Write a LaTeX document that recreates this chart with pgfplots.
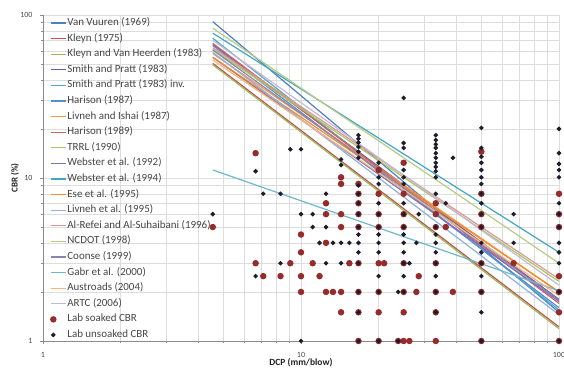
\documentclass[border=0pt]{standalone}
\usepackage{pgfplots}
\pgfplotsset{compat=1.18}
\usepackage{fontspec}
\setmainfont{Carlito}
\definecolor{gridc}{HTML}{DDDDDD}
\definecolor{axisc}{HTML}{8C8C8C}
\definecolor{labc}{HTML}{454545}
\definecolor{cA}{HTML}{4F81BD}
\definecolor{cB}{HTML}{C0504D}
\definecolor{cC}{HTML}{9BBB59}
\definecolor{cD}{HTML}{6A5A9E}
\definecolor{cE}{HTML}{4BACC6}
\definecolor{cF}{HTML}{5B8DCB}
\definecolor{cG}{HTML}{F79646}
\definecolor{cH}{HTML}{D9605C}
\definecolor{cI}{HTML}{A5C85F}
\definecolor{cJ}{HTML}{8470B8}
\definecolor{cK}{HTML}{41A6C2}
\definecolor{cL}{HTML}{F08A30}
\definecolor{cM}{HTML}{8FB0DA}
\definecolor{cN}{HTML}{D99694}
\definecolor{cO}{HTML}{B5CC85}
\definecolor{cP}{HTML}{8A84B0}
\definecolor{cQ}{HTML}{6CB8CF}
\definecolor{cR}{HTML}{FAB27A}
\definecolor{cS}{HTML}{C4B8D8}
\definecolor{soaked}{HTML}{962B2B}
\definecolor{unsoaked}{HTML}{1C1C2C}
\pgfplotsset{
  dotleg/.style={legend image code/.code={\draw[##1] plot coordinates {(2.5bp,0bp)};}},
}
\begin{document}
\begin{tikzpicture}
\begin{axis}[
  at={(43bp,29bp)}, anchor=south west,
  width=516bp, height=326bp, scale only axis,
  xmode=log, ymode=log,
  xmin=1, xmax=100, ymin=1, ymax=100,
  xtick={1,10,100}, xticklabels={1,10,100},
  ytick={1,10,100}, yticklabels={1,10,100},
  grid=both,
  major grid style={draw=gridc, line width=0.5bp},
  minor grid style={draw=gridc, line width=0.5bp},
  axis lines*=left,
  axis line style={draw=axisc, line width=0.6bp},
  tick style={draw=axisc, line width=0.5bp},
  tick align=outside,
  major tick length=3bp, minor tick length=2bp,
  ticklabel style={font=\fontsize{8}{9}\selectfont, text=labc},
  xticklabel style={yshift=-5bp},
  yticklabel style={xshift=-4bp},
  xlabel={\textbf{DCP (mm/blow)}},
  ylabel={\textbf{CBR (\%)}},
  xlabel style={at={(axis description cs:0.5,0)}, anchor=center, yshift=-22bp, font=\fontsize{9.5}{10}\selectfont, text=labc!50!black},
  ylabel style={at={(axis description cs:-0.0543,0.5)}, anchor=center, font=\fontsize{9}{10}\selectfont, text=labc!50!black},
  legend style={at={(0,1)}, anchor=north west, xshift=7bp, draw=none, fill=none,
    inner sep=0pt, row sep=0pt, text=labc,
    nodes={font=\fontsize{11}{12}\selectfont, inner ysep=3.1bp, inner xsep=1bp, text height=7.2bp, text depth=2.2bp}},
  legend cell align=left,
  every axis plot/.append style={line width=1.2bp},
  legend image code/.code={\draw[#1] (0bp,0bp) -- (15bp,0bp);},
]
\addplot[cA] coordinates {(4.55,91) (100,1.5)};
\addlegendentry{Van Vuuren (1969)}
\addplot[cB] coordinates {(4.55,50.5) (100,1.22)};
\addlegendentry{Kleyn (1975)}
\addplot[cC] coordinates {(4.55,49.5) (100,1.19)};
\addlegendentry{Kleyn and Van Heerden (1983)}
\addplot[cD] coordinates {(4.55,66) (100,1.8)};
\addlegendentry{Smith and Pratt (1983)}
\addplot[cE] coordinates {(4.55,72) (100,1.55)};
\addlegendentry{Smith and Pratt (1983) inv.}
\addplot[cF] coordinates {(4.55,65) (100,1.6)};
\addlegendentry{Harison (1987)}
\addplot[cG] coordinates {(4.55,58) (100,2.0)};
\addlegendentry{Livneh and Ishai (1987)}
\addplot[cH] coordinates {(4.55,67) (100,1.7)};
\addlegendentry{Harison (1989)}
\addplot[cI] coordinates {(4.55,61.5) (100,2.32)};
\addlegendentry{TRRL (1990)}
\addplot[cJ] coordinates {(4.55,55) (100,1.75)};
\addlegendentry{Webster et al. (1992)}
\addplot[cK] coordinates {(4.55,77.4) (100,3.5)};
\addlegendentry{Webster et al. (1994)}
\addplot[cL] coordinates {(4.55,55) (100,2.0)};
\addlegendentry{Ese et al. (1995)}
\addplot[cM] coordinates {(4.55,59) (100,1.45)};
\addlegendentry{Livneh et al. (1995)}
\addplot[cN] coordinates {(4.55,63) (100,2.4)};
\addlegendentry{Al-Refei and Al-Suhaibani (1996)}
\addplot[cO] coordinates {(4.55,83) (100,3.0)};
\addlegendentry{NCDOT (1998)}
\addplot[cP] coordinates {(4.55,61) (100,1.78)};
\addlegendentry{Coonse (1999)}
\addplot[cQ] coordinates {(4.55,11.2) (100,2.03)};
\addlegendentry{Gabr et al. (2000)}
\addplot[cR] coordinates {(4.55,53) (100,1.9)};
\addlegendentry{Austroads (2004)}
\addplot[cS] coordinates {(4.55,70) (100,2.2)};
\addlegendentry{ARTC (2006)}
\addplot[only marks, mark=*, mark size=2.6bp, draw=soaked, fill=soaked, dotleg] coordinates {
(4.55,5) (6.67,14.2) (6.67,3) (7.14,2.5) (8.33,2.5) (9.09,3) (10,4.5) (10,3.5) (10,2.5) (10,2)
(11.1,3) (11.8,2.5) (12.5,6) (12.5,7) (12.5,4) (12.5,2) (13.3,2) (14.3,10.1) (14.3,9.2) (14.3,6)
(14.3,5) (14.3,2) (14.3,1.5) (15.4,3)
(16.7,9.2) (16.7,8) (16.7,7) (16.7,6) (16.7,5) (16.7,3) (16.7,2) (16.7,1.5) (16.7,1)
(20,11.2) (20,8) (20,6) (20,5) (20,3) (21,3) (20,2) (20,1.5) (20,1)
(23.8,1)
(25,12.4) (25,8) (25,6) (25,5) (25,3) (25,2) (25,1.5) (25,1)
(26.3,1) (28,2) (28.6,2.5)
(33.3,7) (33.3,6) (33.3,5) (33.3,3) (33.3,2) (33.3,1.5) (33.3,1)
(36.4,5) (38.8,2)
(50,14.5) (50,8) (50,6) (50,5) (50,3) (50,2) (50,1)
(66.7,3)
(100,8) (100,6) (100,5) (100,2.5) (100,2) (100,1.5) (100,1)
};
\addlegendentry{Lab soaked CBR}
\addplot[only marks, mark=*, mark size=1.6bp, draw=unsoaked, fill=unsoaked, dotleg] coordinates {
(4.55,6) (6.67,11) (6.67,2.5) (7.14,8) (8.33,8) (8.33,3) (9.09,15) (10,15) (10,6) (10,1)
(11.1,6) (11.1,5) (11.8,4) (12.5,8) (12.5,5) (12.5,3) (13.3,4) (14.3,13) (14.3,12) (14.3,4)
(14.3,3) (15.4,4)
(16.7,18.3) (16.7,17.4) (16.7,16.5) (16.7,15.5) (16.7,14.5) (16.7,13.3) (16.7,9) (16.7,8)
(16.7,7) (16.7,6) (16.7,5) (16.7,4.5) (16.7,4) (16.7,3.5) (16.7,3) (16.7,2) (16.7,1.5) (16.7,1)
(20,12.4) (20,10.1) (20,9.2) (20,7) (20,6) (20,5) (20,4.5) (20,4) (20,3.5) (20,2.5) (20,2) (20,1)
(23.8,2) (23.8,1)
(25,31) (25,16.4) (25,15.3) (25,11.2) (25,10.1) (25,9.2) (25,7) (25,6) (25,5) (25,4.5) (25,4)
(25,3.5) (25,3) (25,2.5) (25,2)
(26.3,3) (28,4) (28.6,6)
(33.3,18.3) (33.3,17.1) (33.3,16.1) (33.3,15.3) (33.3,14.2) (33.3,13.3) (33.3,12.4) (33.3,11.7)
(33.3,11) (33.3,10.1) (33.3,8) (33.3,5) (33.3,4.5) (33.3,4) (33.3,3.5) (33.3,3) (33.3,2.5)
(33.3,2) (33.3,1.5)
(36.4,7) (38.8,13.3)
(50,20.3) (50,15.3) (50,13.5) (50,12.4) (50,11.2) (50,10.1) (50,9.2) (50,8) (50,7) (50,6)
(50,5) (50,4) (50,3.5) (50,3) (50,2.5) (50,2) (50,1.5) (50,1)
(66.7,6) (66.7,4)
(100,20) (100,14.2) (100,12.2) (100,11.2) (100,10.1) (100,7) (100,6) (100,5) (100,4) (100,3.5)
(100,3) (100,2) (100,1)
};
\addlegendentry{Lab unsoaked CBR}
\end{axis}
\pgfresetboundingbox
\path[use as bounding box] (0bp,0bp) rectangle (564bp,370bp);
\end{tikzpicture}
\end{document}
